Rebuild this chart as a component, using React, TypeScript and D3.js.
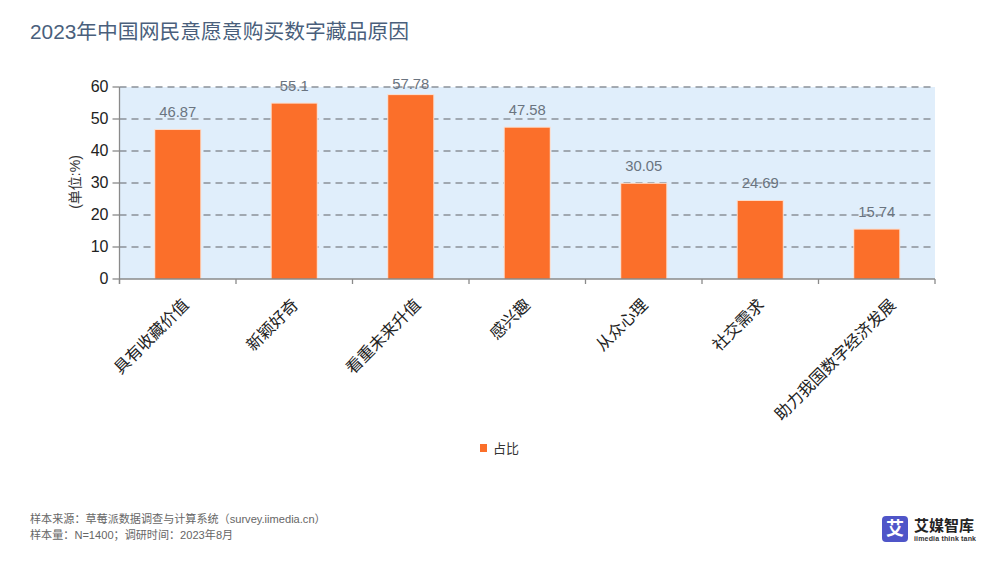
import React from "react";
import * as d3 from "d3";

const categories = ["具有收藏价值", "新颖好奇", "看重未来升值", "感兴趣", "从众心理", "社交需求", "助力我国数字经济发展"];
const values = [46.87, 55.1, 57.78, 47.58, 30.05, 24.69, 15.74];
const valueLabels = ["46.87", "55.1", "57.78", "47.58", "30.05", "24.69", "15.74"];
const yTicks = [0, 10, 20, 30, 40, 50, 60];
const title = "2023年中国网民意愿意购买数字藏品原因";
const footnotes = ["样本来源：草莓派数据调查与计算系统（survey.iimedia.cn）", "样本量：N=1400；调研时间：2023年8月"];

const FONT = '"Liberation Sans", "Noto Sans CJK SC", sans-serif';
const L = 119.5, R = 935, T = 87, B = 279;
// horizontal nudge of each rotated axis label relative to its band centre
const labelNudge = [12, 5, 11, 4, 5, 5, 20];

export default function App() {
  const x = d3.scaleBand<string>().domain(categories).range([L, R]).paddingInner(0).paddingOuter(0);
  const y = d3.scaleLinear().domain([0, 60]).range([B, T]);
  const bw = 45;
  return (
    <svg width={1000} height={563} viewBox="0 0 1000 563" style={{ position: "fixed", left: 0, top: 0, background: "#fff" }} fontFamily={FONT}>
      <text x={30} y={39} fontSize={20.8} fill="#4a5f7c">{title}</text>
      <rect x={L} y={T} width={R - L} height={B - T} fill="#e0eefb" />
      {yTicks.filter(t => t > 0).map(t => (
        <line key={t} x1={L} x2={R} y1={y(t)} y2={y(t)} stroke="#8a9199" strokeWidth={1.3} strokeDasharray="7 5" />
      ))}
      {categories.map((c, i) => (
        <g key={c}>
          <rect x={x(c)! + x.bandwidth() / 2 - bw / 2 - 1} y={y(values[i])} width={bw + 2} height={B - y(values[i])} fill="#fbdccb" />
          <rect x={x(c)! + x.bandwidth() / 2 - bw / 2} y={y(values[i]) + 1} width={bw} height={B - y(values[i]) - 1} fill="#fb6f2a" />
          <text x={x(c)! + x.bandwidth() / 2} y={Math.max(y(values[i]) - 12, T + 2)} textAnchor="middle" fontSize={14.8} fill="#6a7480">{valueLabels[i]}</text>
        </g>
      ))}
      <line x1={L} x2={L} y1={T} y2={B + 5} stroke="#8a8a8a" strokeWidth={1.3} />
      <line x1={L} x2={R} y1={B} y2={B} stroke="#8a8a8a" strokeWidth={1.3} />
      {yTicks.map(t => (
        <g key={t}>
          <line x1={L - 7} x2={L} y1={y(t)} y2={y(t)} stroke="#8a8a8a" strokeWidth={1.3} />
          <text x={L - 11} y={y(t) + 5} textAnchor="end" fontSize={16} fill="#222">{t}</text>
        </g>
      ))}
      {d3.range(categories.length + 1).map(i => {
        const px = L + i * x.bandwidth();
        return <line key={i} x1={px} x2={px} y1={B} y2={B + 5} stroke="#8a8a8a" strokeWidth={1.3} />;
      })}
      {categories.map((c, i) => {
        const px = x(c)! + x.bandwidth() / 2 + labelNudge[i];
        return (
          <text key={c} transform={`translate(${px},${B + 27}) rotate(-45)`} textAnchor="end" fontSize={16.3} fill="#222">{c}</text>
        );
      })}
      <text transform="translate(80,182) rotate(-90)" textAnchor="middle" fontSize={14} fill="#333">(单位:%)</text>
      <rect x={480} y={444} width={7} height={8} fill="#fb6f2a" />
      <text x={493} y={453} fontSize={13} fill="#333">占比</text>
      {footnotes.map((f, i) => (
        <text key={f} x={30} y={523 + i * 16} fontSize={11.1} fill="#666">{f}</text>
      ))}
      <rect x={882} y={516} width={26} height={26} rx={4} fill="#4f55c8" />
      <text x={895} y={535} textAnchor="middle" fontSize={18} fontWeight={700} fill="#fff">艾</text>
      <text x={914} y={531} fontSize={15} fontWeight={700} fill="#222">艾媒智库</text>
      <text x={914} y={541} fontSize={7} fontWeight={700} fill="#333" textLength={62}>iimedia think tank</text>
    </svg>
  );
}
